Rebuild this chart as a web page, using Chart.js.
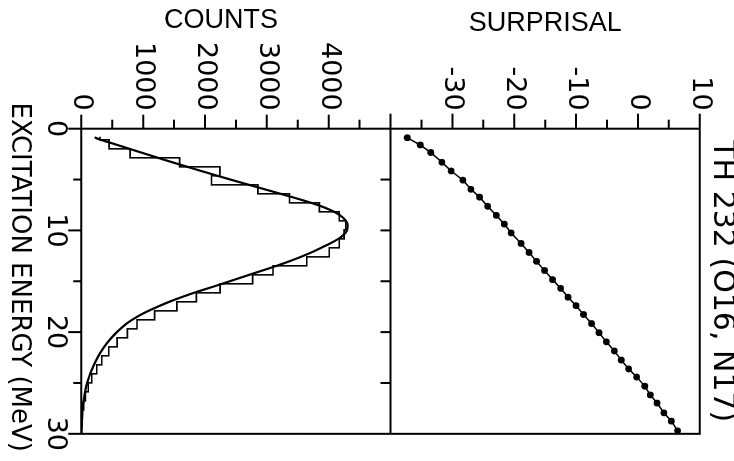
<!DOCTYPE html>
<html>
<head>
<meta charset="utf-8">
<title>TH 232 (O16, N17)</title>
<script src="https://cdn.jsdelivr.net/npm/chart.js@4.4.1/dist/chart.umd.min.js"></script>
<style>
  html, body { margin: 0; padding: 0; background: #fff; overflow: hidden; }
  /* the plot is laid out upright and turned a quarter turn clockwise */
  #wrap {
    position: absolute; left: 0; top: 0;
    width: 461px; height: 734px;
    transform-origin: 0 0;
    transform: translateX(734px) rotate(90deg);
  }
  canvas { display: block; }
</style>
</head>
<body>
<div id="wrap"><canvas id="chart" width="461" height="734"></canvas></div>
<script>
// surprisal points (energy in MeV, surprisal)
const surprisalEnergy = [0.89, 1.60, 2.34, 3.30, 4.16, 5.06, 5.96, 6.73, 7.63, 8.52, 9.38,
  10.25, 11.28, 12.17, 13.04, 13.94, 14.84, 15.70, 16.57, 17.40, 18.27, 19.16, 20.06,
  20.96, 21.86, 22.75, 23.62, 24.42, 25.32, 26.18, 26.98, 27.94, 28.75, 29.71];
const surprisalValues = [-37.3, -35.2, -33.5, -31.7, -30.2, -28.3, -27.0, -25.6, -24.3, -22.9, -21.6,
  -20.5, -18.9, -17.6, -16.4, -15.1, -13.8, -12.5, -11.3, -10.0, -8.8, -7.5, -6.3,
  -5.1, -3.8, -2.7, -1.5, -0.2, 1.1, 2.0, 3.1, 4.2, 5.4, 6.4];

// histogram bin edges (MeV) and counts per bin
const histEdges = [0.80, 1.09, 1.98, 2.86, 3.75, 4.63, 5.52, 6.40, 7.29, 8.17, 9.06, 9.94,
  10.83, 11.71, 12.60, 13.48, 14.37, 15.25, 16.14, 17.02, 17.91, 18.79, 19.68, 20.56,
  21.45, 22.33, 23.22, 24.10, 24.99, 25.87, 26.76, 27.64, 28.53, 29.41, 30.30];
const histCounts = [300, 450, 790, 1590, 2240, 2105, 2855, 3365, 3850, 4170, 4275,
  4250, 4170, 4010, 3645, 3100, 2770, 2245, 1860, 1545, 1185, 900, 745,
  580, 445, 330, 250, 170, 112, 66, 38, 20, 10, 3];

// fitted spectrum
const fitEnergy = [0.85, 1.0, 1.5, 2.0, 2.5, 3.0, 3.5, 4.0, 4.5, 5.0, 5.5, 6.0, 6.5, 7.0, 7.5,
  8.0, 8.5, 9.0, 9.5, 10.0, 10.5, 11.0, 11.5, 12.0, 12.5, 13.0, 13.5, 14.0, 14.5, 15.0,
  15.5, 16.0, 16.5, 17.0, 17.5, 18.0, 18.5, 19.0, 19.5, 20.0, 21.0, 22.0, 23.0, 24.0,
  25.0, 26.0, 27.0, 28.0, 29.0, 30.0];
const fitCounts = [215, 270, 530, 790, 1050, 1310, 1580, 1850, 2130, 2410, 2700, 2990, 3280, 3560, 3820,
  4030, 4180, 4270, 4305, 4295, 4230, 4110, 3950, 3780, 3590, 3380, 3150, 2900, 2650, 2400,
  2150, 1890, 1650, 1430, 1235, 1055, 900, 770, 665, 575, 425, 310, 220, 150,
  95, 56, 30, 15, 6, 0];

// tick marks
const energyMajor = [0, 10, 20, 30];
const energyMinor = [5, 15, 25];
const energyInner = [5, 10, 15, 20, 25];
const countMajor = [0, 1000, 2000, 3000, 4000];
const countMinor = [500, 1500, 2500, 3500, 4500];
const surprisalMajor = [-30, -20, -10, 0, 10];
const surprisalMinor = [-35, -25, -15, -5, 5];

const energyTitle = 'EXCITATION ENERGY (MeV)';

const SANS = '"Liberation Sans", Arial, sans-serif';
const WIDE = '"DejaVu Sans", sans-serif';
Chart.defaults.font.family = SANS;
Chart.defaults.color = '#000';

const histData = histEdges.map((e, i) => ({ x: e, y: histCounts[Math.min(i, histCounts.length - 1)] }));
const fitData = fitEnergy.map((e, i) => ({ x: e, y: fitCounts[i] }));
const surprisalData = surprisalEnergy.map((e, i) => ({ x: e, y: surprisalValues[i] }));

// box, panel divider and all tick marks
const framePlugin = {
  id: 'frame',
  afterDatasetsDraw(chart) {
    const { ctx, chartArea: a, scales: { x, y, y2 } } = chart;
    const mid = y.getPixelForValue(5000);
    const seg = (x0, y0, x1, y1) => { ctx.moveTo(x0, y0); ctx.lineTo(x1, y1); };
    ctx.save();
    ctx.strokeStyle = '#000';
    ctx.lineWidth = 2;
    ctx.beginPath();
    ctx.rect(a.left, a.top, a.right - a.left, a.bottom - a.top);
    seg(a.left - 15, mid, a.right, mid);
    energyMajor.forEach(v => { const p = x.getPixelForValue(v); seg(p, a.bottom, p, a.bottom + 13); });
    energyMinor.forEach(v => { const p = x.getPixelForValue(v); seg(p, a.bottom, p, a.bottom + 8); });
    energyInner.forEach(v => { const p = x.getPixelForValue(v); seg(p, mid, p, mid + 10); });
    countMajor.forEach(v => { const p = y.getPixelForValue(v); seg(a.left - 14, p, a.left, p); });
    countMinor.forEach(v => { const p = y.getPixelForValue(v); seg(a.left - 9, p, a.left, p); });
    surprisalMajor.forEach(v => { const p = y2.getPixelForValue(v); seg(a.left - 15, p, a.left, p); });
    surprisalMinor.forEach(v => { const p = y2.getPixelForValue(v); seg(a.left - 9, p, a.left, p); });
    ctx.stroke();
    ctx.restore();
  },
  // energy axis title, drawn here so it is not squeezed to the axis width
  afterDraw(chart) {
    const { ctx, scales: { x } } = chart;
    ctx.save();
    ctx.fillStyle = '#000';
    ctx.font = '26px ' + WIDE;
    ctx.textAlign = 'center';
    ctx.textBaseline = 'middle';
    ctx.fillText(energyTitle, (x.left + x.right) / 2 - 4, x.bottom - 19);
    ctx.restore();
  }
};

const tickFont = { family: WIDE, size: 27 };

new Chart(document.getElementById('chart'), {
  type: 'scatter',
  data: {
    datasets: [
      {
        label: 'Counts',
        data: histData,
        yAxisID: 'y',
        showLine: true,
        stepped: 'before',
        borderColor: '#000',
        borderWidth: 1.6,
        pointRadius: 0,
      },
      {
        label: 'Fit',
        data: fitData,
        yAxisID: 'y',
        showLine: true,
        cubicInterpolationMode: 'monotone',
        borderColor: '#000',
        borderWidth: 2.2,
        pointRadius: 0,
      },
      {
        label: 'Surprisal',
        data: surprisalData,
        yAxisID: 'y2',
        showLine: true,
        borderColor: '#000',
        borderWidth: 1.5,
        pointRadius: 3.4,
        pointBorderWidth: 0,
        pointBackgroundColor: '#000',
      },
    ],
  },
  options: {
    responsive: false,
    animation: false,
    events: [],
    layout: { padding: { left: 0, right: 20, top: 0, bottom: 0 } },
    plugins: {
      legend: { display: false },
      tooltip: { enabled: false },
      title: {
        display: true,
        text: 'TH 232 (O16, N17)',
        fullSize: false,
        color: '#000',
        font: { family: WIDE, size: 30, weight: 'normal', lineHeight: 0.7 },
        padding: { top: 0, bottom: 11.5 },
      },
    },
    scales: {
      x: {
        type: 'linear',
        position: 'bottom',
        min: 0,
        max: 30,
        afterFit: (s) => { s.height = 81.3; },
        grid: { display: false, drawTicks: false },
        border: { display: false },
        ticks: { stepSize: 10, padding: 10, font: tickFont, maxRotation: 0, autoSkip: false,
          callback: (v) => String(v) },
      },
      y: {
        type: 'linear',
        position: 'left',
        stack: 'panels',
        stackWeight: 1,
        weight: 1,
        min: 0,
        max: 5000,
        afterFit: (s) => { s.width = 128.7; },
        grid: { display: false, drawTicks: false },
        border: { display: false },
        ticks: { stepSize: 1000, padding: 18, font: tickFont, autoSkip: false,
          callback: (v) => (v === 5000 ? '' : String(v)) },
        title: {
          display: true,
          text: 'COUNTS    ',
          font: { family: SANS, size: 27 },
          padding: { top: 4, bottom: 0 },
        },
      },
      y2: {
        type: 'linear',
        position: 'left',
        stack: 'panels',
        stackWeight: 1,
        weight: 2,
        min: -40,
        max: 10,
        afterFit: (s) => { s.width = 128.7; },
        grid: { display: false, drawTicks: false },
        border: { display: false },
        ticks: { stepSize: 10, padding: 18, font: tickFont, autoSkip: false,
          callback: (v) => (v === -40 ? '' : String(v)) },
        title: {
          display: true,
          text: 'SURPRISAL',
          font: { family: SANS, size: 27 },
          padding: { top: 7, bottom: 0 },
        },
      },
    },
  },
  plugins: [framePlugin],
});
</script>
</body>
</html>
